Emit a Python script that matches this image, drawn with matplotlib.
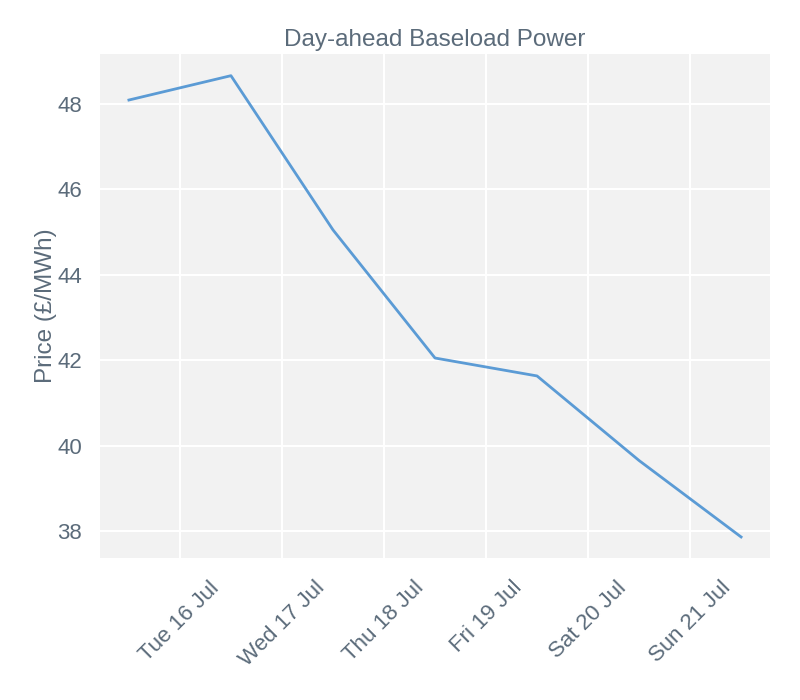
import matplotlib
matplotlib.use("Agg")
import matplotlib.pyplot as plt
import matplotlib.dates as mdates
import numpy as np
import datetime as dt

dates = ["2024-07-15 12:00", "2024-07-16 12:00", "2024-07-17 12:00", "2024-07-18 12:00",
         "2024-07-19 12:00", "2024-07-20 12:00", "2024-07-21 12:00"]
prices = [48.09, 48.66, 45.05, 42.05, 41.63, 39.65, 37.86]
tick_dates = ["2024-07-16", "2024-07-17", "2024-07-18", "2024-07-19", "2024-07-20", "2024-07-21"]
yticks = [38, 40, 42, 44, 46, 48]

plt.rcParams['font.family'] = ['Liberation Sans', 'DejaVu Sans']
txt = '#5b6b7a'

x = [dt.datetime.strptime(d, "%Y-%m-%d %H:%M") for d in dates]
xt = [dt.datetime.strptime(d, "%Y-%m-%d") for d in tick_dates]

fig = plt.figure(figsize=(8, 7), dpi=100)
ax = fig.add_axes([0.125, 0.203, 0.8375, 0.72])
ax.set_facecolor('#f2f2f2')
ax.plot(x, prices, color='#5b9bd5', lw=2)
ax.set_xlim(x[0] - dt.timedelta(hours=6.8), x[-1] + dt.timedelta(hours=6.8))
ax.set_ylim(37.37, 49.17)
ax.set_xticks(xt)
ax.xaxis.set_major_formatter(mdates.DateFormatter('%a %d %b'))
ax.set_yticks(yticks)
ax.grid(True, color='white', lw=1.5)
ax.set_axisbelow(True)
for s in ax.spines.values():
    s.set_visible(False)
ax.tick_params(axis='both', colors=txt, labelsize=16, length=0)
ax.tick_params(axis='y', pad=13)
ax.tick_params(axis='x', pad=14)
plt.setp(ax.get_xticklabels(), rotation=45, ha='center')
ax.set_ylabel('Price (£/MWh)', color=txt, fontsize=17.5, labelpad=0)
ax.set_title('Day-ahead Baseload Power', color=txt, fontsize=17.5, pad=6)
fig.savefig('out.png', dpi=100)
